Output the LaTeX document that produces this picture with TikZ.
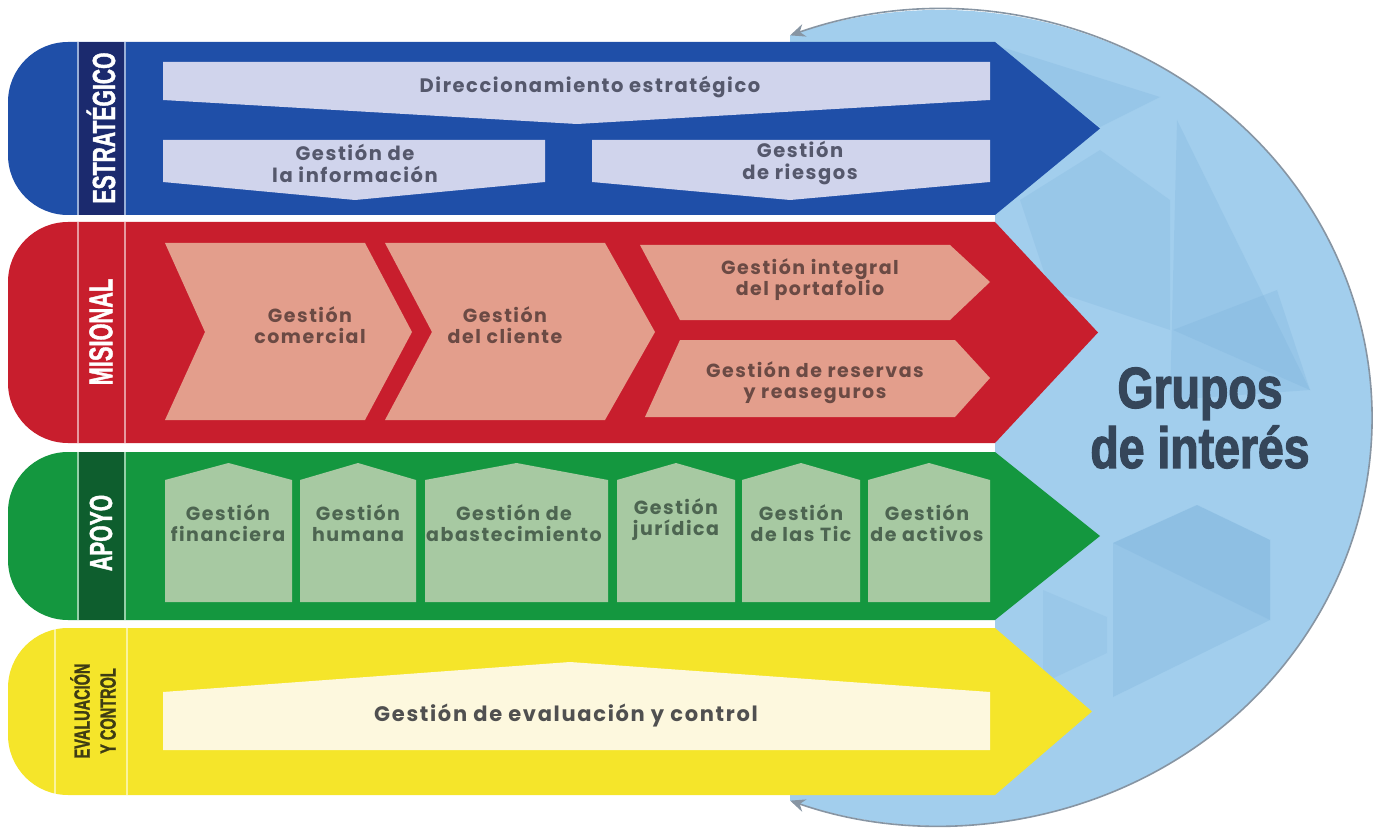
\documentclass[tikz,border=0pt]{standalone}
\usepackage{fontspec}
\setsansfont{Poppins}[LetterSpace=8]
\newfontfamily\condfont{Liberation Sans}[FakeStretch=0.66, FakeBold=1.2]
\newfontfamily\grupofont{Liberation Sans}[FakeStretch=0.8, FakeBold=2]
\usetikzlibrary{arrows.meta}

\definecolor{azul}{HTML}{1F4FA8}
\definecolor{marino}{HTML}{1B2A6E}
\definecolor{lila}{HTML}{D0D4EC}
\definecolor{rojo}{HTML}{C81E2D}
\definecolor{salmon}{HTML}{E39E8C}
\definecolor{verde}{HTML}{14973F}
\definecolor{verdeosc}{HTML}{0E5E2E}
\definecolor{verdeclaro}{HTML}{A7C9A2}
\definecolor{amarillo}{HTML}{F5E52A}
\definecolor{crema}{HTML}{FDF8DE}
\definecolor{cielo}{HTML}{A2CEED}
\definecolor{faceta}{HTML}{6FA9D6}
\definecolor{arco}{HTML}{8795A3}
\definecolor{tazul}{HTML}{55586C}
\definecolor{trojo}{HTML}{6B4A44}
\definecolor{tverde}{HTML}{4D6551}
\definecolor{tamarillo}{HTML}{505050}
\definecolor{tgrupo}{HTML}{35465A}
\definecolor{toliva}{HTML}{3E3C14}

\tikzset{
  caja/.style={font=\sffamily\bfseries\fontsize{19}{21}\selectfont, align=center, inner sep=0pt},
  txtazul/.style={caja, text=tazul, font=\sffamily\bfseries\fontsize{19.5}{22}\selectfont},
  txtrojo/.style={caja, text=trojo},
  txtverde/.style={caja, text=tverde},
  txtamarillo/.style={caja, text=tamarillo, font=\sffamily\bfseries\fontsize{21}{22}\selectfont},
  etiqueta/.style={font=\condfont\bfseries\fontsize{32}{32}\selectfont, rotate=90, inner sep=0pt, text=white},
  raya/.style={white, opacity=.55, line width=2pt},
  punta/.tip={Stealth[length=15pt,width=13pt]}
}

\begin{document}
\begin{tikzpicture}[x=1pt,y=-1pt]
\useasboundingbox (0,0) rectangle (1377,829);

% circulo de grupos de interes
\fill[cielo,shift={(940,418)}] (-110.3:432 and 408) arc[start angle=-110.3,end angle=110.3,x radius=432,y radius=408] -- cycle;
\fill[faceta,opacity=.2] (995,45) -- (1160,97) -- (1100,127) -- cycle;
\fill[faceta,opacity=.2] (1177,120) -- (1310,390) -- (1170,400) -- cycle;
\fill[faceta,opacity=.18] (1020,200) -- (1100,150) -- (1170,200) -- (1170,330) -- (1050,290) -- cycle;
\fill[faceta,opacity=.2] (1173,330) -- (1277,290) -- (1310,390) -- cycle;
\fill[faceta,opacity=.22] (1113,543) -- (1197,505) -- (1270,540) -- (1270,620) -- (1113,697) -- cycle;
\fill[faceta,opacity=.18] (1113,543) -- (1197,505) -- (1270,540) -- (1270,620) -- cycle;
\fill[faceta,opacity=.15] (1043,590) -- (1107,617) -- (1107,653) -- (1043,683) -- cycle;
\draw[arco,line width=1.6pt,punta-punta,shift={(940,418)}] (-110.3:432 and 408) arc[start angle=-110.3,end angle=110.3,x radius=432,y radius=408];
\fill[white] (0,42) rectangle (995,795);

% franjas
\foreach \t/\b/\tip/\c in {42/215/1100/azul, 222/443/1098/rojo, 452/620/1100/verde, 628/795/1092/amarillo}
  \fill[\c] (995,\t) -- (\tip,{(\t+\b)/2}) -- (995,\b) -- (70,\b) [rounded corners=60] -- (8,\b) -- (8,\t) [sharp corners] -- (70,\t) -- cycle;
\fill[marino] (79,42) rectangle (124,215);
\fill[verdeosc] (79,452) rectangle (124,620);
\foreach \t/\b in {42/215, 222/443, 452/620}
  \draw[raya] (78,\t) -- (78,\b) (125,\t) -- (125,\b);
\draw[raya] (55,628) -- (55,795) (127,628) -- (127,795);

% estrategico
\fill[lila] (163,62) -- (990,62) -- (990,100) -- (577,124) -- (163,100) -- cycle;
\fill[lila] (163,140) -- (545,140) -- (545,182) -- (355,200) -- (163,182) -- cycle;
\fill[lila] (592,140) -- (990,140) -- (990,182) -- (790,200) -- (592,182) -- cycle;
\node[txtazul] (direc) at (590,87) {Direccionamiento estratégico};
\node[txtazul] (info) at (355,163) {Gestión de\\la información};
\node[txtazul] (riesgos) at (800,163) {Gestión\\de riesgos};

% misional
\fill[salmon] (165,243) -- (365,243) -- (412,332) -- (365,420) -- (165,420) -- (205,332) -- cycle;
\fill[salmon] (385,243) -- (605,243) -- (655,332) -- (605,420) -- (385,420) -- (432,332) -- cycle;
\fill[salmon] (640,245) -- (950,245) -- (990,282) -- (950,320) -- (680,320) -- cycle;
\fill[salmon] (680,340) -- (955,340) -- (990,378) -- (955,417) -- (645,417) -- cycle;
\node[txtrojo] (comercial) at (310,325) {Gestión\\comercial};
\node[txtrojo] (cliente) at (505,325) {Gestión\\del cliente};
\node[txtrojo] (portafolio) at (810,280) {Gestión integral\\del portafolio};
\node[txtrojo] (reservas) at (815,383) {Gestión de reservas\\y reaseguros};

% apoyo
\foreach \l/\r in {165/292, 300/416, 425/608, 617/735, 742/860, 868/990}
  \fill[verdeclaro] (\l,602) -- (\l,480) -- ({(\l+\r)/2},463) -- (\r,480) -- (\r,602) -- cycle;
\node[txtverde] (financiera) at (228,523) {Gestión\\financiera};
\node[txtverde] (humana) at (358,523) {Gestión\\humana};
\node[txtverde] (abastecimiento) at (514,523) {Gestión de\\abastecimiento};
\node[txtverde] (juridica) at (676,520) {Gestión\\jurídica};
\node[txtverde] (tic) at (801,523) {Gestión\\de las Tic};
\node[txtverde] (activos) at (927,523) {Gestión\\de activos};

% evaluacion y control
\fill[crema] (163,692) -- (570,662) -- (990,692) -- (990,750) -- (163,750) -- cycle;
\node[txtamarillo] (evaluacion) at (566,716) {Gestión de evaluación y control};

% etiquetas
\node[etiqueta] (lblEst) at (101,128) {ESTRATÉGICO};
\node[etiqueta, font=\condfont\bfseries\fontsize{33}{33}\selectfont] (lblMis) at (101,332) {MISIONAL};
\node[etiqueta] (lblApo) at (101,533) {APOYO};
\node[etiqueta, text=toliva, font=\condfont\bfseries\fontsize{22}{26}\selectfont, align=center] (lblEva) at (93,711) {EVALUACIÓN\\Y CONTROL};

\node[font=\grupofont\bfseries\fontsize{58}{60}\selectfont, text=tgrupo, align=center, inner sep=0pt] (grupos) at (1200,418) {Grupos\\de interés};
\end{tikzpicture}
\end{document}
